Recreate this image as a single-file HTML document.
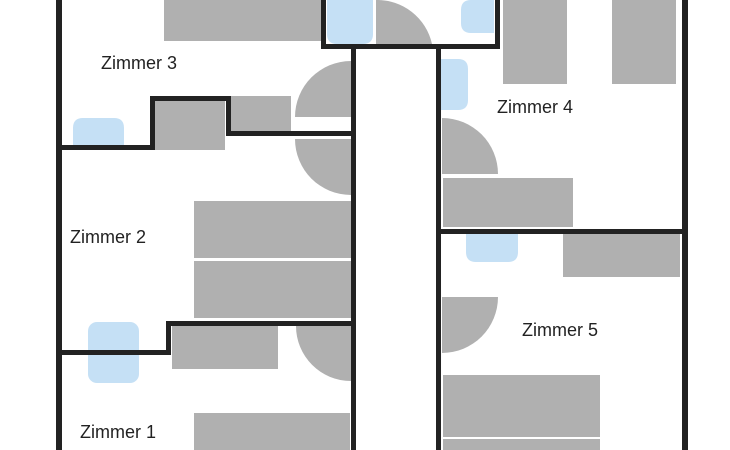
<!DOCTYPE html>
<html><head><meta charset="utf-8"><style>
html,body{margin:0;padding:0;background:#fff;}
svg{display:block}
text{font-family:"Liberation Sans",sans-serif;font-size:18px;fill:#222;}
</style></head><body>
<svg width="730" height="450" viewBox="0 0 730 450" xmlns="http://www.w3.org/2000/svg">
<rect width="730" height="450" fill="#fff"/>
<g fill="#b0b0b0">
<rect x="164" y="0" width="157" height="41"/>
<rect x="154" y="101" width="71" height="49"/>
<rect x="230" y="96" width="61" height="35"/>
<path d="M351,117 L295,117 A56,56 0 0 1 351,61 Z"/>
<path d="M351,139 L295,139 A56,56 0 0 0 351,195 Z"/>
<rect x="194" y="201" width="157" height="57"/>
<rect x="194" y="261" width="157" height="57"/>
<rect x="172" y="326" width="106" height="43"/>
<path d="M351,326 L296,326 A55,55 0 0 0 351,381 Z"/>
<rect x="194" y="413" width="156" height="37"/>
<path d="M376,44 L376,0 A56,56 0 0 1 432,44 Z" transform="translate(0,0)"/>
<rect x="503" y="0" width="64" height="84"/>
<rect x="612" y="0" width="64" height="84"/>
<path d="M442,174 L442,118 A56,56 0 0 1 498,174 Z"/>
<rect x="443" y="178" width="130" height="49"/>
<rect x="563" y="233" width="117" height="44"/>
<path d="M442,297 L498,297 A56,56 0 0 1 442,353 Z"/>
<rect x="443" y="375" width="157" height="62"/>
<rect x="443" y="439" width="157" height="11"/>
</g>
<g fill="#c5e0f5">
<path d="M73,148 L73,128 Q73,118 83,118 L114,118 Q124,118 124,128 L124,148 Z"/>
<rect x="88" y="322" width="51" height="61" rx="9"/>
<path d="M327,0 L373,0 L373,34 Q373,44 363,44 L337,44 Q327,44 327,34 Z"/>
<path d="M494,0 L494,33 L471,33 Q461,33 461,23 L461,10 Q461,0 471,0 Z"/>
<path d="M441,59 L458,59 Q468,59 468,69 L468,100 Q468,110 458,110 L441,110 Z"/>
<path d="M466,234 L518,234 L518,252 Q518,262 508,262 L476,262 Q466,262 466,252 Z"/>
</g>
<g fill="#222">
<rect x="56" y="0" width="6" height="450"/>
<rect x="682" y="0" width="6" height="450"/>
<rect x="351" y="45" width="5" height="405"/>
<rect x="436" y="45" width="5" height="405"/>
<rect x="321" y="0" width="5" height="49"/>
<rect x="495" y="0" width="5" height="49"/>
<rect x="321" y="44" width="179" height="5"/>
<rect x="56" y="145" width="99" height="5"/>
<rect x="150" y="96" width="5" height="54"/>
<rect x="150" y="96" width="80" height="5"/>
<rect x="226" y="96" width="5" height="39"/>
<rect x="226" y="131" width="130" height="5"/>
<rect x="56" y="350" width="114" height="5"/>
<rect x="166" y="321" width="5" height="34"/>
<rect x="166" y="321" width="190" height="5"/>
<rect x="436" y="229" width="252" height="5"/>
</g>
<text x="101" y="69">Zimmer 3</text>
<text x="497" y="113">Zimmer 4</text>
<text x="70" y="243">Zimmer 2</text>
<text x="80" y="438">Zimmer 1</text>
<text x="522" y="336">Zimmer 5</text>
</svg>
</body></html>
